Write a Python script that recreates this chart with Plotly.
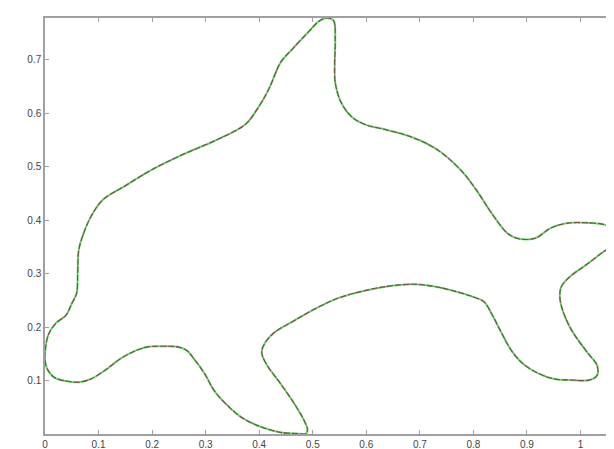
import plotly.graph_objects as go

# Outline of the dolphin
outline_x = [0.000, 0.006, 0.020, 0.039, 0.050, 0.059, 0.061, 0.063, 0.072, 0.086,
             0.108, 0.148, 0.199, 0.258, 0.316, 0.374, 0.396, 0.418, 0.440, 0.462,
             0.491, 0.513, 0.528, 0.539, 0.542, 0.541, 0.542, 0.553, 0.572, 0.597,
             0.637, 0.688, 0.732, 0.776, 0.805, 0.834, 0.864, 0.885, 0.915, 0.944,
             0.973, 1.010, 1.046, 1.068, 1.064, 1.039, 1.010, 0.980, 0.964, 0.962,
             0.980, 1.010, 1.031, 1.031, 1.017, 0.980, 0.951, 0.922, 0.893, 0.871,
             0.850, 0.834, 0.820, 0.798, 0.769, 0.732, 0.688, 0.645, 0.601, 0.550,
             0.506, 0.462, 0.426, 0.407, 0.405, 0.415, 0.440, 0.466, 0.484, 0.490,
             0.488, 0.469, 0.440, 0.404, 0.367, 0.338, 0.316, 0.298, 0.280, 0.265,
             0.247, 0.221, 0.192, 0.163, 0.141, 0.112, 0.086, 0.064, 0.039, 0.017,
             0.004, 0.000, 0.000]
outline_y = [0.150, 0.185, 0.207, 0.222, 0.244, 0.263, 0.300, 0.344, 0.375, 0.407,
             0.438, 0.463, 0.494, 0.523, 0.548, 0.579, 0.607, 0.645, 0.695, 0.720,
             0.751, 0.773, 0.778, 0.773, 0.738, 0.695, 0.657, 0.620, 0.594, 0.579,
             0.569, 0.554, 0.532, 0.494, 0.457, 0.413, 0.375, 0.365, 0.366, 0.385,
             0.394, 0.395, 0.391, 0.375, 0.357, 0.338, 0.316, 0.294, 0.275, 0.250,
             0.200, 0.156, 0.128, 0.110, 0.101, 0.101, 0.103, 0.113, 0.131, 0.156,
             0.194, 0.225, 0.247, 0.257, 0.266, 0.275, 0.280, 0.277, 0.269, 0.255,
             0.235, 0.210, 0.188, 0.163, 0.150, 0.128, 0.094, 0.056, 0.025, 0.009,
             0.001, 0.001, 0.003, 0.013, 0.031, 0.056, 0.081, 0.113, 0.138, 0.156,
             0.163, 0.164, 0.163, 0.153, 0.141, 0.119, 0.103, 0.097, 0.099, 0.106,
             0.122, 0.138, 0.150]

x_ticks = [0, 0.1, 0.2, 0.3, 0.4, 0.5, 0.6, 0.7, 0.8, 0.9, 1]
x_tick_labels = ["0", "0.1", "0.2", "0.3", "0.4", "0.5", "0.6", "0.7", "0.8", "0.9", "1"]
y_ticks = [0.1, 0.2, 0.3, 0.4, 0.5, 0.6, 0.7]
y_tick_labels = ["0.1", "0.2", "0.3", "0.4", "0.5", "0.6", "0.7"]

fig = go.Figure()
fig.add_trace(go.Scatter(x=outline_x, y=outline_y, mode="lines",
                         line=dict(color="#66dd66", width=2, shape="spline", smoothing=1.0),
                         hoverinfo="skip", showlegend=False))
fig.add_trace(go.Scatter(x=outline_x, y=outline_y, mode="lines",
                         line=dict(color="#6a5050", width=1.1, dash="6px,2px", shape="spline", smoothing=1.0),
                         hoverinfo="skip", showlegend=False))
fig.add_trace(go.Scatter(x=outline_x, y=outline_y, mode="lines",
                         line=dict(color="#b04040", width=0.8, dash="2px,9px", shape="spline", smoothing=1.0),
                         hoverinfo="skip", showlegend=False))

axis_common = dict(showgrid=False, zeroline=False, showline=True, linecolor="#a0a0a0",
                   linewidth=1.5, mirror="ticks", ticks="inside", ticklen=4,
                   tickcolor="#a0a0a0", tickfont=dict(family="Liberation Sans, Arial", size=10, color="#444"))

fig.update_xaxes(range=[0, 1.07], tickvals=x_ticks, ticktext=x_tick_labels, **axis_common)
fig.update_yaxes(range=[0, 0.778], tickvals=y_ticks, ticktext=y_tick_labels, **axis_common)

fig.update_layout(width=614, height=449, margin=dict(l=37, r=2, t=10, b=23),
                  plot_bgcolor="white", paper_bgcolor="white")

fig.write_html("out.html")
